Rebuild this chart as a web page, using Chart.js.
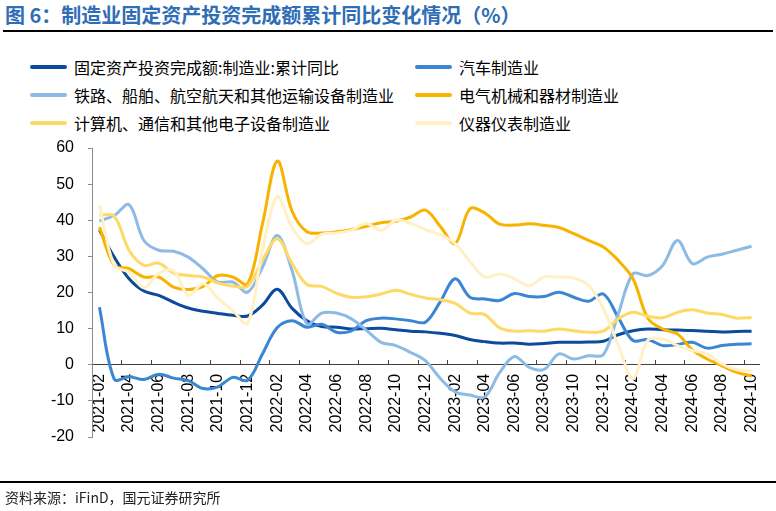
<!DOCTYPE html>
<html>
<head>
<meta charset="utf-8">
<script src="https://cdn.jsdelivr.net/npm/chart.js@4.4.1/dist/chart.umd.min.js"></script>
<style>
  html, body { margin: 0; padding: 0; background: #fff; }
  #wrap { position: relative; width: 776px; height: 511px; overflow: hidden; background: #fff; }
  #title { position: absolute; left: 5px; top: 0; height: 30px; line-height: 30px; font-family: "Noto Sans CJK SC", sans-serif; font-weight: bold; font-size: 20px; color: #2F6DB5; white-space: nowrap; }
  .rule { position: absolute; left: 3px; right: 3px; height: 2px; background: #000; }
  .leg { position: absolute; height: 20px; line-height: 20px; font-family: "Noto Sans CJK SC", sans-serif; font-size: 16px; color: #000; white-space: nowrap; }
  .sw { position: absolute; width: 37px; height: 4px; border-radius: 2px; }
  #src { position: absolute; left: 5px; top: 488px; height: 18px; line-height: 18px; font-family: "Noto Sans CJK SC", sans-serif; font-size: 14px; color: #222; white-space: nowrap; }
  canvas { position: absolute; left: 0; top: 0; }
</style>
</head>
<body>
<div id="wrap">
  <div id="title">图 6：制造业固定资产投资完成额累计同比变化情况（%）</div>
  <div class="rule" style="top:30px;"></div>
  <div id="legend"></div>
  <canvas id="c" width="776" height="511"></canvas>
  <div class="rule" style="top:481px; left:0; right:0;"></div>
  <div id="src">资料来源：iFinD，国元证券研究所</div>
</div>
<script>
const categories = [
  "2021-02","2021-03","2021-04","2021-05","2021-06","2021-07","2021-08","2021-09","2021-10","2021-11","2021-12",
  "2022-01","2022-02","2022-03","2022-04","2022-05","2022-06","2022-07","2022-08","2022-09","2022-10","2022-11","2022-12",
  "2023-01","2023-02","2023-03","2023-04","2023-05","2023-06","2023-07","2023-08","2023-09","2023-10","2023-11","2023-12",
  "2024-01","2024-02","2024-03","2024-04","2024-05","2024-06","2024-07","2024-08","2024-09","2024-10"
];
const seriesNames = [
  "固定资产投资完成额:制造业:累计同比",
  "汽车制造业",
  "铁路、船舶、航空航天和其他运输设备制造业",
  "电气机械和器材制造业",
  "计算机、通信和其他电子设备制造业",
  "仪器仪表制造业"
];
const manufacturing = [37.3,29.8,23.8,20.4,19.2,17.3,15.7,14.8,14.2,13.7,13.5,
  16.5,20.9,15.6,12.2,10.6,10.4,9.9,10.0,10.1,9.7,9.3,9.1,
  8.7,8.1,7.0,6.4,6.0,6.0,5.7,5.9,6.2,6.2,6.3,6.5,
  8.3,9.4,9.9,9.7,9.6,9.5,9.3,9.1,9.2,9.3];
const auto = [15.9,-4.0,-3.3,-4.1,-2.6,-3.7,-4.4,-6.6,-6.1,-3.5,-4.3,
  3.0,10.3,12.2,10.4,11.2,9.0,9.4,12.2,12.9,12.7,12.2,11.8,
  17.5,23.8,18.7,18.2,17.8,19.7,18.9,18.9,20.1,18.7,17.6,19.6,
  13.1,6.7,7.0,5.3,5.6,6.2,4.6,5.3,5.7,5.8];
const transport = [39.8,41.3,44.3,34.4,31.7,31.4,29.8,26.5,22.9,22.9,20.1,
  27.0,35.8,26.0,11.3,14.3,14.3,12.7,9.6,6.2,5.3,3.4,1.1,
  -3.8,-7.5,-8.4,-8.9,-2.2,2.3,-0.7,-1.3,3.0,1.6,2.5,2.8,
  14.0,25.2,24.7,27.5,34.4,28.0,29.8,30.6,31.7,32.8];
const electrical = [38.1,27.5,26.6,24.3,24.3,21.5,20.8,21.7,24.7,24.3,22.4,
  39.0,56.4,42.5,36.8,36.5,36.8,37.4,38.3,39.3,39.7,40.9,42.8,
  38.3,33.6,43.2,42.0,38.9,38.7,39.0,38.6,38.0,36.3,34.4,32.6,
  28.9,23.8,12.9,9.9,8.5,4.1,1.6,-0.3,-2.1,-3.1];
const electronics = [41.4,41.1,31.7,27.5,28.1,25.4,24.7,24.3,22.6,21.8,21.7,
  28.9,34.9,28.0,22.2,21.7,19.8,18.7,18.8,19.6,20.6,19.5,18.5,
  18.0,17.0,14.3,13.9,10.2,9.3,9.4,9.3,9.9,9.4,9.0,9.3,
  12.7,14.5,13.4,13.0,14.5,15.2,14.3,13.9,12.9,13.1];
const instruments = [44.2,27.5,25.6,21.3,25.3,26.0,19.2,22.4,18.4,15.0,11.5,
  31.7,46.5,38.0,33.5,36.1,36.5,37.2,39.1,37.2,40.0,39.1,37.4,
  36.0,33.5,28.6,24.3,25.1,23.8,21.9,24.3,24.3,24.0,22.0,15.5,
  5.5,-3.8,6.8,7.1,5.3,3.9,3.0,0.2,-1.4,-1.7];
const yTicks = [-20,-10,0,10,20,30,40,50,60];

const colors = ["#0C4A9C","#3A86D2","#8DBBE5","#F8B300","#FFD966","#FFF0C6"];
const values = [manufacturing, auto, transport, electrical, electronics, instruments];

// HTML legend (2 columns x 3 rows)
const legend = document.getElementById('legend');
const colX = [30, 415];
const rowY = [67, 95, 123];
seriesNames.forEach((name, i) => {
  const c = i % 2, r = Math.floor(i / 2);
  const sw = document.createElement('div');
  sw.className = 'sw';
  sw.style.left = colX[c] + 'px';
  sw.style.top = (rowY[r] - 2) + 'px';
  sw.style.background = colors[i];
  legend.appendChild(sw);
  const t = document.createElement('div');
  t.className = 'leg';
  t.style.left = (colX[c] + 44) + 'px';
  t.style.top = (rowY[r] - 10) + 'px';
  t.textContent = name;
  legend.appendChild(t);
});

Chart.defaults.font.family = "'Liberation Sans', Arial, sans-serif";
Chart.defaults.color = '#000';

new Chart(document.getElementById('c'), {
  type: 'line',
  data: {
    labels: categories,
    datasets: values.map((v, i) => ({
      label: seriesNames[i],
      data: v,
      borderColor: colors[i],
      backgroundColor: colors[i],
      borderWidth: 3,
      pointRadius: 0,
      tension: 0.35,
      fill: false,
      order: 5 - i
    }))
  },
  options: {
    responsive: false,
    animation: false,
    events: [],
    layout: { padding: { left: 0, right: 17, top: 148, bottom: 74 } },
    plugins: { legend: { display: false }, tooltip: { enabled: false } },
    scales: {
      x: {
        type: 'category',
        position: { y: 0 },
        offset: true,
        grid: {
          display: true,
          drawOnChartArea: false,
          drawTicks: true,
          offset: true,
          tickLength: -5,
          tickWidth: 1,
          tickColor: (ctx) => (ctx.index % 2 === 0 ? '#404040' : 'rgba(0,0,0,0)')
        },
        border: { display: true, color: '#404040', width: 1 },
        ticks: {
          autoSkip: false,
          minRotation: 90,
          maxRotation: 90,
          padding: 14,
          font: { size: 16 },
          color: '#000',
          callback: (val, idx) => (idx % 2 === 0 ? categories[idx] : '')
        },
        afterFit: (s) => { s.paddingLeft = 0; s.paddingRight = 0; }
      },
      y: {
        position: 'left',
        min: yTicks[0],
        max: yTicks[yTicks.length - 1],
        afterBuildTicks: (s) => { s.ticks = yTicks.map(v => ({ value: v })); },
        grid: {
          display: true,
          drawOnChartArea: false,
          drawTicks: true,
          tickLength: 4,
          tickColor: '#8c8c8c'
        },
        border: { display: true, color: '#8c8c8c', width: 1 },
        ticks: { padding: 14, font: { size: 16 }, color: '#000' },
        afterFit: (s) => { s.width = 92; }
      }
    }
  }
});
</script>
</body>
</html>
